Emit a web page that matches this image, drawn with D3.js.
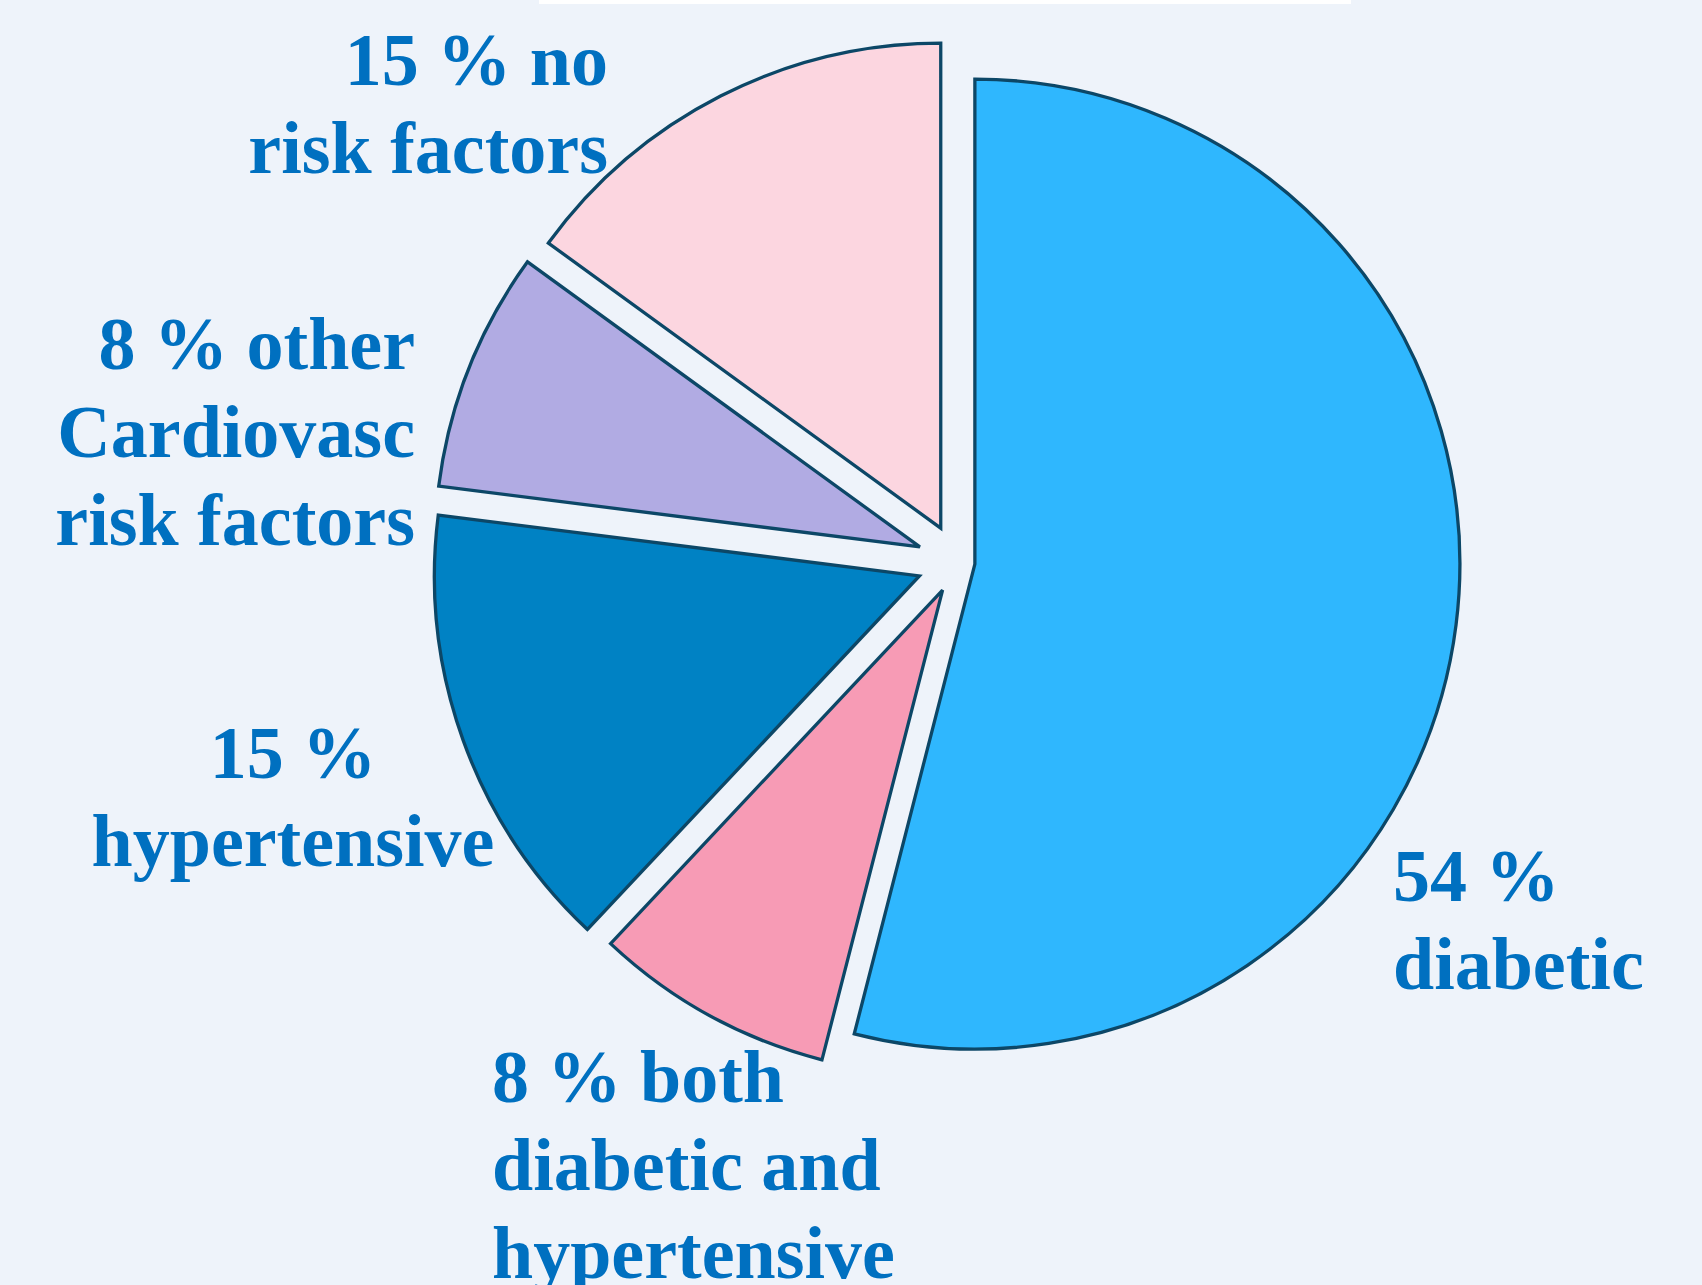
<!DOCTYPE html>
<html>
<head>
<meta charset="utf-8">
<script src="https://cdn.jsdelivr.net/npm/d3@7"></script>
<style>
  html, body { margin: 0; padding: 0; background: #EEF3FA; }
  svg { display: block; }
  .slice-label { font-family: "Liberation Serif", "Times New Roman", serif; font-weight: bold; fill: #0070C0; }
</style>
</head>
<body>
<svg id="pie-chart"></svg>
<script>
let svgWidth = 1702;
let svgHeight = 1285;

// Data
let categories = ['diabetic', 'both diabetic and hypertensive', 'hypertensive', 'other Cardiovasc risk factors', 'no risk factors'];
let values = [54, 8, 15, 8, 15];
let labelLines = [
    ['54 %', 'diabetic'],
    ['8 % both', 'diabetic and', 'hypertensive'],
    ['15 %', 'hypertensive'],
    ['8 % other', 'Cardiovasc', 'risk factors'],
    ['15 % no', 'risk factors']
];

// Styling / layout
let colors = ['#2FB7FE', '#F79BB5', '#0082C4', '#B1ABE3', '#FCD6E0'];
let explode = [17, 32, 41, 41, 38];
// label anchor offsets relative to pie centre
let labelLayout = [
    {dx: 435, dy: 339, anchor: 'start'},
    {dx: -466, dy: 540, anchor: 'start'},
    {dx: -665, dy: 216, anchor: 'middle'},
    {dx: -543, dy: -193, anchor: 'end'},
    {dx: -350, dy: -477, anchor: 'end'}
];
let cx = 958, cy = 562, radius = 485;
let lineHeight = 88;

let svg = d3.select('#pie-chart')
    .attr('width', svgWidth)
    .attr('height', svgHeight);

svg.append('rect')
    .attr('width', svgWidth)
    .attr('height', svgHeight)
    .attr('fill', '#EEF3FA');

// thin white strip at the top (remains of a title box)
svg.append('rect')
    .attr('x', 539).attr('y', 0)
    .attr('width', 812).attr('height', 4)
    .attr('fill', '#ffffff');

let data = categories.map((c, i) => ({name: c, value: values[i], index: i}));

let pie = d3.pie()
    .value(d => d.value)
    .sort(null)
    .startAngle(0)
    .endAngle(2 * Math.PI);

let arc = d3.arc()
    .innerRadius(0)
    .outerRadius(radius);

let g = svg.append('g')
    .attr('transform', `translate(${cx},${cy})`);

g.selectAll('.slice')
    .data(pie(data))
    .join('path')
    .classed('slice', true)
    .attr('d', arc)
    .attr('transform', d => {
        let mid = (d.startAngle + d.endAngle) / 2;
        let off = explode[d.index];
        return `translate(${Math.sin(mid) * off},${-Math.cos(mid) * off})`;
    })
    .attr('fill', (d, i) => colors[i])
    .attr('stroke', '#0C4767')
    .attr('stroke-width', 3.3);

let labels = g.selectAll('.slice-label')
    .data(pie(data))
    .join('text')
    .classed('slice-label', true)
    .attr('font-size', 74)
    .attr('text-anchor', (d, i) => labelLayout[i].anchor)
    .attr('x', (d, i) => labelLayout[i].dx)
    .attr('y', (d, i) => labelLayout[i].dy);

labels.selectAll('tspan')
    .data((d, i) => labelLines[i].map(t => ({t: t, x: labelLayout[i].dx})))
    .join('tspan')
    .attr('x', d => d.x)
    .attr('dy', (d, j) => j === 0 ? 0 : lineHeight)
    .text(d => d.t);
</script>
</body>
</html>
